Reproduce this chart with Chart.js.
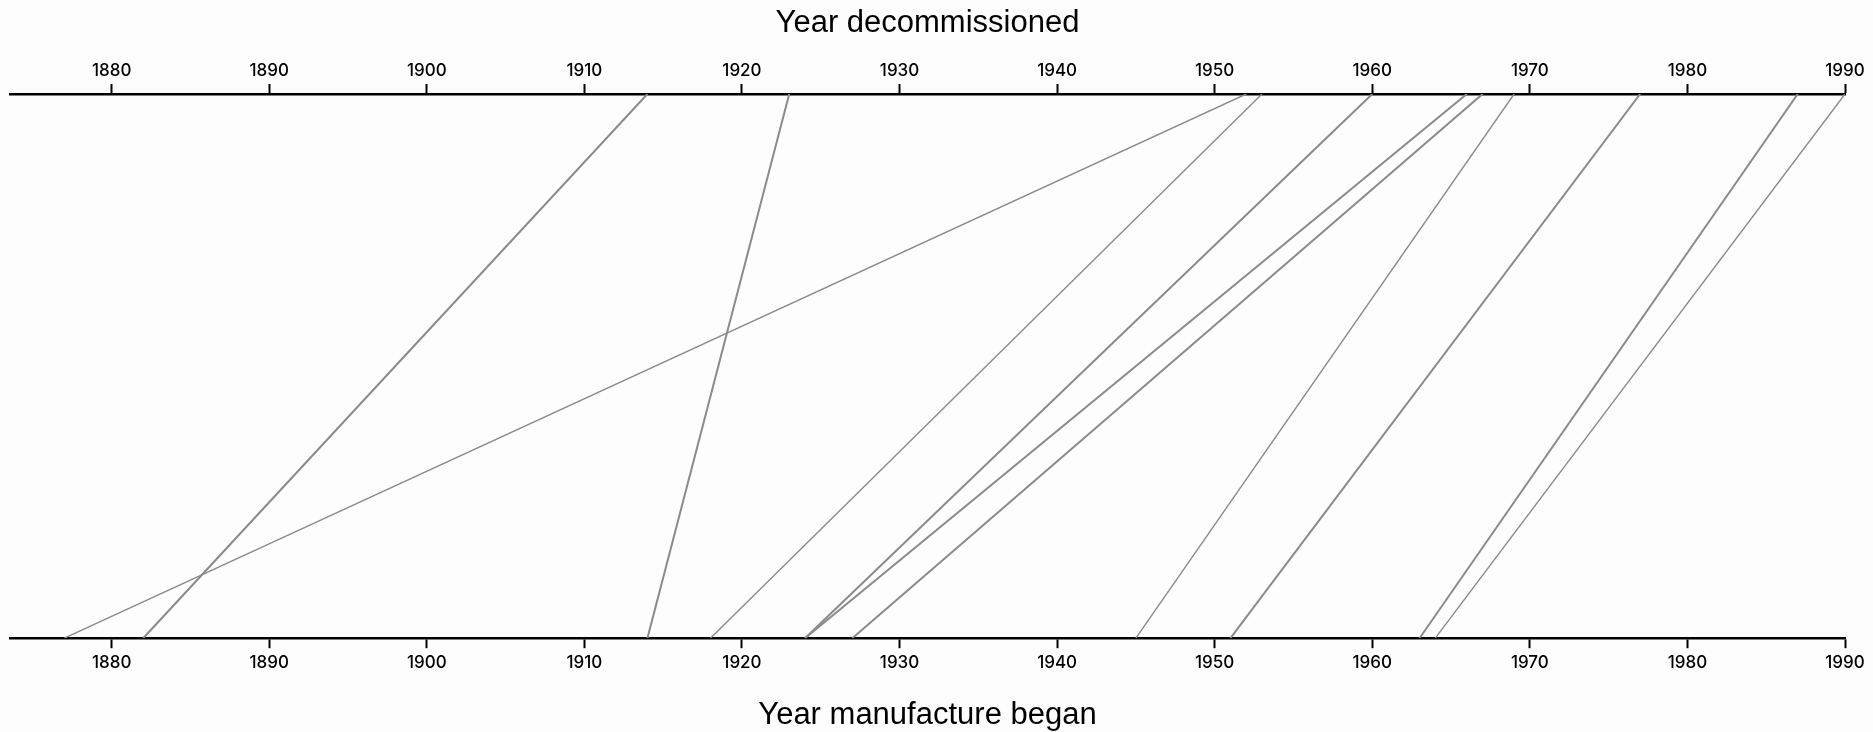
<!DOCTYPE html>
<html>
<head>
<meta charset="utf-8">
<script src="https://cdn.jsdelivr.net/npm/chart.js@4.4.1/dist/chart.umd.min.js"></script>
<style>
  body { margin: 0; background: #fdfdfd; }
  #wrap { width: 1873px; height: 732px; }
</style>
</head>
<body>
<div id="wrap"><canvas id="YearsChart" width="1873" height="732"></canvas></div>
<script>
// each line goes from the year manufacture began (bottom) to the year decommissioned (top)
const startYears = [1877, 1882, 1914, 1918, 1924, 1924, 1927, 1945, 1951, 1963, 1964];
const endYears   = [1952, 1914, 1923, 1953, 1960, 1966, 1967, 1969, 1977, 1987, 1990];
const tickYears  = [1880, 1890, 1900, 1910, 1920, 1930, 1940, 1950, 1960, 1970, 1980, 1990];
const lineWidths = [1.4, 2, 2, 1.4, 2, 2, 2, 1.4, 2, 2, 1.4];

const xMin = 1873.55, xMax = 1990;

let datasets = startYears.map((s, i) => ({
    data: [{ x: s, y: 0 }, { x: endYears[i], y: 1 }],
    showLine: true,
    borderColor: "#8a8a8a",
    borderWidth: lineWidths[i],
    pointRadius: 0,
    xAxisID: "x",
    yAxisID: "y"
}));

function axis(position, title, titlePad, tickPad) {
    return {
        type: "linear",
        position: position,
        min: xMin,
        max: xMax,
        afterBuildTicks: (a) => { a.ticks = tickYears.map(v => ({ value: v })); },
        border: { display: true, color: "#000", width: 2.5 },
        grid: { display: true, drawOnChartArea: false, drawTicks: true, tickLength: 10, tickWidth: 2, tickColor: "#000" },
        ticks: {
            color: "#000",
            padding: tickPad,
            maxRotation: 0,
            autoSkip: false,
            font: { family: "Inter", size: 17, weight: 500 },
            callback: (v) => String(v)
        },
        title: {
            display: true,
            text: title,
            color: "#000",
            font: { family: "Liberation Sans", size: 31, lineHeight: 1 },
            padding: titlePad
        }
    };
}

let ctx = document.getElementById("YearsChart").getContext("2d");
let chart = new Chart(ctx, {
    type: "scatter",
    data: { datasets: datasets },
    options: {
        responsive: false,
        animation: false,
        layout: { padding: { left: 10, right: 28, top: 0, bottom: 0 } },
        plugins: { legend: { display: false }, tooltip: { enabled: false } },
        scales: {
            x: axis("bottom", "Year manufacture began", { top: 22.4, bottom: 0.8 }, 4.6),
            x2: axis("top", "Year decommissioned", { top: 8.4, bottom: 17.4 }, 3.4),
            y: { display: false, min: 0, max: 1 }
        }
    }
});
</script>
</body>
</html>
